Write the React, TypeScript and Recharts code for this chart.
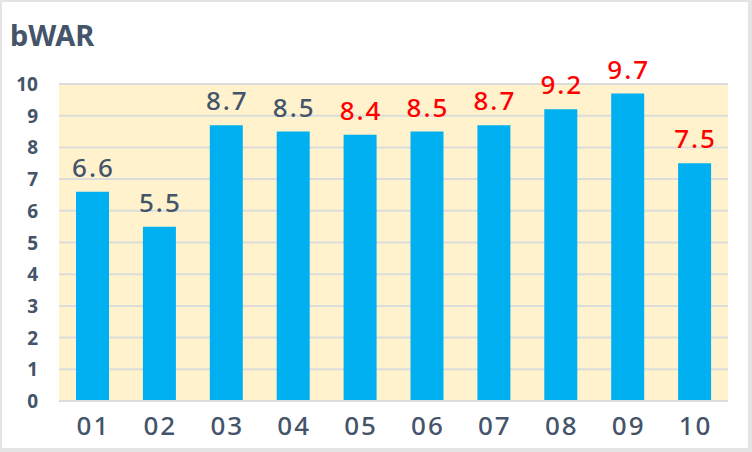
import { BarChart, Bar, XAxis, YAxis, CartesianGrid, LabelList } from "recharts";

const seasons = ["01", "02", "03", "04", "05", "06", "07", "08", "09", "10"];
const bwar = [6.6, 5.5, 8.7, 8.5, 8.4, 8.5, 8.7, 9.2, 9.7, 7.5];
const highlighted = [false, false, false, false, true, true, true, true, true, true];
const yTicks = [0, 1, 2, 3, 4, 5, 6, 7, 8, 9, 10];

const data = seasons.map((season, i) => ({ season, war: bwar[i] }));

const FONT = "'Noto Sans', 'Open Sans', sans-serif";
const TEXT = "#44546A";

const renderValueLabel = (props: any) => {
  const { x, y, width, value, index } = props;
  return (
    <text
      x={Number(x) + Number(width) / 2 + 1}
      y={Number(y) - 15}
      textAnchor="middle"
      fontFamily={FONT}
      fontSize={26}
      fontWeight={500}
      letterSpacing={2}
      fill={highlighted[index] ? "#FF0000" : TEXT}
    >
      {Number(value).toFixed(1)}
    </text>
  );
};

const renderXTick = (props: any) => {
  const { x, payload } = props;
  return (
    <text
      x={Number(x) + 1}
      y={435}
      textAnchor="middle"
      fontFamily={FONT}
      fontSize={26}
      fontWeight={500}
      letterSpacing={2}
      fill={TEXT}
    >
      {payload.value}
    </text>
  );
};

const renderYTick = (props: any) => {
  const { y, payload } = props;
  return (
    <text
      x={38}
      y={Number(y) + 7}
      textAnchor="end"
      fontFamily={FONT}
      fontSize={19}
      fontWeight={700}
      fill={TEXT}
    >
      {payload.value}
    </text>
  );
};

export default function App() {
  return (
    <div style={{ position: "absolute", left: 0, top: 0, width: 752, height: 452, background: "#E4E4E4" }}>
      <div style={{ position: "absolute", left: 2, top: 2, width: 746, height: 446, background: "#fff" }} />
      <div
        style={{
          position: "absolute",
          left: 59,
          top: 84,
          width: 669,
          height: 317,
          background: "#FFF2CC",
        }}
      />
      <div
        style={{
          position: "absolute",
          left: 10,
          top: 16,
          fontFamily: FONT,
          fontWeight: 700,
          fontSize: 29,
          color: TEXT,
          lineHeight: "38px",
        }}
      >
        bWAR
      </div>
      <BarChart
        width={752}
        height={452}
        data={data}
        margin={{ top: 84, right: 24, bottom: 0, left: 0 }}
        barSize={33}
        style={{ position: "absolute", left: 0, top: 0 }}
      >
        <CartesianGrid vertical={false} stroke="#DCDCDC" strokeWidth={2} />
        <XAxis
          dataKey="season"
          height={51}
          axisLine={{ stroke: "#DCDCDC", strokeWidth: 2 }}
          tickLine={false}
          tick={renderXTick}
        />
        <YAxis
          width={59}
          domain={[0, 10]}
          ticks={yTicks}
          axisLine={false}
          tickLine={false}
          tick={renderYTick}
        />
        <Bar dataKey="war" fill="#00B0F0" isAnimationActive={false}>
          <LabelList dataKey="war" content={renderValueLabel} />
        </Bar>
      </BarChart>
    </div>
  );
}
